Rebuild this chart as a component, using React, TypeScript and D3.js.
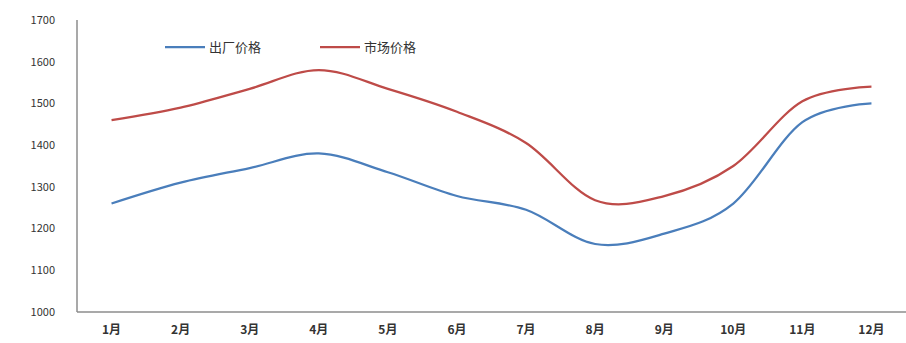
import React, { useEffect, useRef } from 'react';
import * as d3 from 'd3';

const months = ['1月', '2月', '3月', '4月', '5月', '6月', '7月', '8月', '9月', '10月', '11月', '12月'];
const factoryPrice = [1260, 1310, 1345, 1380, 1335, 1278, 1245, 1163, 1188, 1260, 1455, 1500];
const marketPrice = [1460, 1490, 1535, 1580, 1535, 1480, 1405, 1268, 1278, 1350, 1505, 1540];
const yTicks = [1000, 1100, 1200, 1300, 1400, 1500, 1600, 1700];
const seriesNames = ['出厂价格', '市场价格'];

const App: React.FC = () => {
  const svgRef = useRef<SVGSVGElement | null>(null);

  useEffect(() => {
    if (!svgRef.current) return;
    const width = 906;
    const height = 343;
    const svg = d3.select(svgRef.current);
    svg.selectAll('*').remove();

    const left = 77;
    const right = 906;
    const top = 20;
    const bottom = 312;

    const x = d3.scaleBand<string>().domain(months).range([left, right]);
    const y = d3.scaleLinear().domain([1000, 1700]).range([bottom, top]);

    const font = '"Noto Sans CJK SC", "DejaVu Sans", sans-serif';

    // axes lines
    svg.append('line')
      .attr('x1', left).attr('x2', left).attr('y1', top).attr('y2', bottom)
      .attr('stroke', '#8c8c8c').attr('stroke-width', 1.5);
    svg.append('line')
      .attr('x1', left).attr('x2', right).attr('y1', bottom).attr('y2', bottom)
      .attr('stroke', '#8c8c8c').attr('stroke-width', 1.5);

    svg.selectAll('.ytick')
      .data(yTicks)
      .enter()
      .append('text')
      .attr('class', 'ytick')
      .attr('x', 55)
      .attr('y', (d) => y(d))
      .attr('dy', '0.35em')
      .attr('text-anchor', 'end')
      .attr('font-family', font)
      .attr('font-size', 11)
      .attr('fill', '#333')
      .text((d) => d);

    svg.selectAll('.xtick')
      .data(months)
      .enter()
      .append('text')
      .attr('class', 'xtick')
      .attr('x', (d) => (x(d) || 0) + x.bandwidth() / 2)
      .attr('y', 334)
      .attr('text-anchor', 'middle')
      .attr('font-family', font)
      .attr('font-size', 12)
      .attr('font-weight', 'bold')
      .attr('fill', '#333')
      .text((d) => d);

    // excel-like smoothing
    const line = d3
      .line<number>()
      .curve(d3.curveCatmullRom.alpha(0))
      .x((_, i) => (x(months[i]) || 0) + x.bandwidth() / 2)
      .y((d) => y(d));

    const colors = ['#4a7ebb', '#be4b48'];
    [factoryPrice, marketPrice].forEach((s, i) => {
      svg.append('path')
        .attr('d', line(s) || '')
        .attr('fill', 'none')
        .attr('stroke', colors[i])
        .attr('stroke-width', 2.25);
    });

    // legend
    const legendX = [165, 320];
    seriesNames.forEach((name, i) => {
      svg.append('line')
        .attr('x1', legendX[i]).attr('x2', legendX[i] + 40)
        .attr('y1', 47).attr('y2', 47)
        .attr('stroke', colors[i]).attr('stroke-width', 2.25);
      svg.append('text')
        .attr('x', legendX[i] + 44)
        .attr('y', 47)
        .attr('dy', '0.35em')
        .attr('font-family', font)
        .attr('font-size', 13)
        .attr('fill', '#333')
        .text(name);
    });

    svg.attr('width', width).attr('height', height);
  }, []);

  return (
    <svg
      ref={svgRef}
      style={{ position: 'absolute', left: 0, top: 0, background: '#fff' }}
    ></svg>
  );
};

export default App;
